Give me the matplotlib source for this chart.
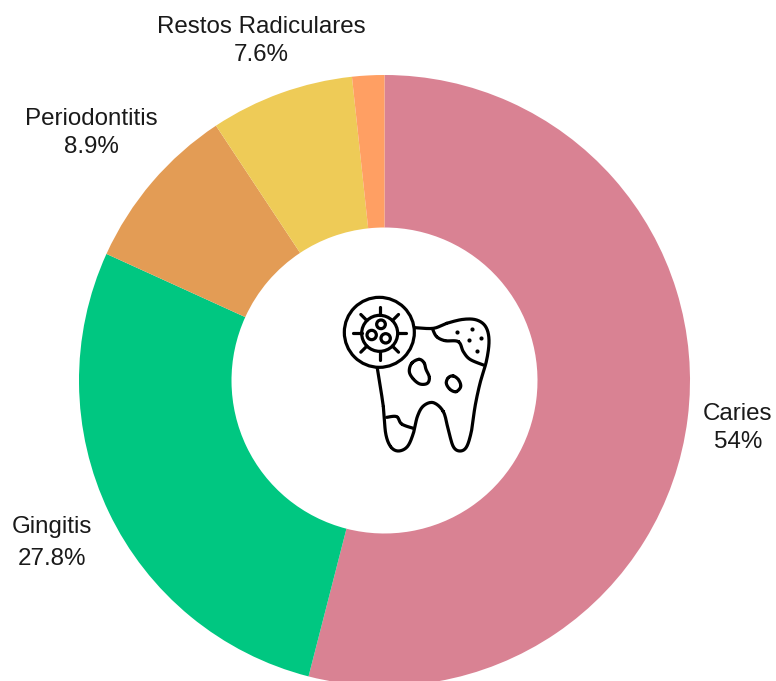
import matplotlib
matplotlib.use('Agg')
import matplotlib.pyplot as plt
import numpy as np
from matplotlib.path import Path
from matplotlib.patches import Circle, PathPatch

# Data (last slice has no label)
labels = ['Caries', 'Gingitis', 'Periodontitis', 'Restos Radiculares', '']
values = [54, 27.8, 8.9, 7.6, 1.7]
value_texts = ['54%', '27.8%', '8.9%', '7.6%', '']
colors = ['#D98293', '#00C781', '#E39C55', '#EECB57', '#FF9F63']

W, H = 776, 681
plt.rcParams['font.family'] = ['Liberation Sans', 'DejaVu Sans']

fig = plt.figure(figsize=(W / 100, H / 100), dpi=100)
ax = fig.add_axes([0, 0, 1, 1])
ax.set_xlim(0, W)
ax.set_ylim(H, 0)
ax.axis('off')

# y axis is flipped, so counterclock=True here runs clockwise on screen
ax.pie(values, colors=colors, startangle=-90, counterclock=True,
       center=(384.5, 380.5), radius=305.5, frame=False,
       wedgeprops=dict(width=152.5, linewidth=0))
ax.set_xlim(0, W)
ax.set_ylim(H, 0)
ax.set_aspect('auto')

# Label placement in pixels: x, name y, value y
label_pos = [(738, 414, 442), (52, 527, 559), (91, 119, 147), (261, 27, 55)]
for i in range(4):
    x, y1, y2 = label_pos[i]
    ax.text(x, y1, labels[i], ha='center', va='center', fontsize=17.4, color='#1a1a1a')
    ax.text(x, y2, value_texts[i], ha='center', va='center', fontsize=17.4, color='#1a1a1a')


# Tooth icon, outlines
def to_px(pts):
    pts = np.array(pts, dtype=float)
    return pts / 3 + np.array([320, 280])


def smooth(pts, closed=False):
    # Catmull-Rom through the traced points
    p = to_px(pts)
    if closed:
        p = np.vstack([p[-1], p, p[0], p[1]])
    else:
        p = np.vstack([p[0], p, p[-1]])
    out = []
    t = np.linspace(0, 1, 12)[:, None]
    for i in range(1, len(p) - 2):
        a, b, c, d = p[i - 1], p[i], p[i + 1], p[i + 2]
        out.append(0.5 * (2 * b + (c - a) * t + (2 * a - 5 * b + 4 * c - d) * t ** 2
                          + (3 * b - a - 3 * c + d) * t ** 3))
    return np.vstack(out)


def stroke(pts, closed=False):
    ax.add_patch(PathPatch(Path(smooth(pts, closed)), fill=False, edgecolor='black',
                           linewidth=2.3, capstyle='round', joinstyle='round'))


outline = [(285, 143), (340, 145), (380, 130), (430, 118), (470, 120), (497, 140), (507, 180),
           (500, 240), (480, 310), (465, 380), (455, 450), (440, 500), (420, 513), (400, 500),
           (385, 450), (370, 395), (340, 368), (310, 378), (292, 410), (280, 460), (262, 500),
           (235, 513), (212, 500), (197, 460), (190, 380), (172, 265)]
decay_top = [(338, 148), (350, 170), (375, 182), (415, 185), (430, 215), (450, 238), (490, 255)]
decay_low = [(200, 412), (230, 410), (245, 432), (280, 445)]
blob1 = [(297, 238), (312, 248), (318, 268), (328, 292), (322, 310), (300, 312), (280, 297),
         (268, 275), (275, 250)]
blob2 = [(400, 288), (416, 300), (422, 320), (408, 335), (390, 328), (379, 310), (385, 293)]

stroke(outline)
stroke(decay_top)
stroke(decay_low)
stroke(blob1, closed=True)
stroke(blob2, closed=True)

dots = to_px([(410, 155), (455, 148), (483, 175), (447, 180), (472, 213)])
ax.scatter(dots[:, 0], dots[:, 1], s=9, color='black', linewidths=0)

# Virus badge
badge = to_px([(178, 157), (179, 160), (183, 133), (155, 165), (197, 175)])
radii = [105 / 3, 54 / 3, 13 / 3, 14 / 3, 14 / 3]
for (cx, cy), r in zip(badge, radii):
    ax.add_patch(Circle((cx, cy), r, fill=False, edgecolor='black', linewidth=2.3))
for ang in np.deg2rad(np.arange(0, 360, 45)):
    d = np.array([np.cos(ang), np.sin(ang)])
    seg = np.array([badge[1] + d * 54 / 3, badge[1] + d * 80 / 3])
    ax.plot(seg[:, 0], seg[:, 1], color='black', lw=2.3, solid_capstyle='round')

fig.savefig('out.png', dpi=100, facecolor='white')
